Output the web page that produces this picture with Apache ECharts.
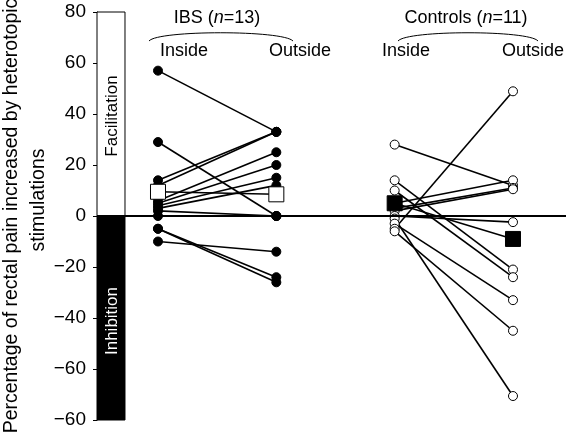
<!DOCTYPE html>
<html><head><meta charset="utf-8">
<script src="https://cdn.jsdelivr.net/npm/echarts@6/dist/echarts.min.js"></script>
<style>html,body{margin:0;padding:0;background:#fff}#c{width:566px;height:433px}</style>
</head><body><div id="c"></div>
<script>
// ---- data ----
const groupNames = ['IBS', 'Controls'];
const conditionLabels = ['Inside', 'Outside', 'Inside', 'Outside'];
const conditionX = [1, 2, 3, 4];
const ibsInside  = [57, 29, 14, 12, 6, 5, 4, 3, 2, 0, -5, -5, -10];
const ibsOutside = [33, 0, 33, 33, 25, 20, 15, 12, 0, 0, -24, -26, -14];
const ctrlInside  = [28, 14, 10, 5, 3, 2, 0, -1, -3, -5, -6];
const ctrlOutside = [12, -21, -24, 14, 11, 10.5, -2.4, -70.6, -33, 48.9, -45];
const ibsMean  = [9.5, 8.5];
const ctrlMean = [5, -9];
const yTickValues = [-80, -60, -40, -20, 0, 20, 40, 60, 80];
const yTickLabels = ['\u221260', '\u221260', '\u221240', '\u221220', '0', '20', '40', '60', '80'];
const barLabels = ['Facilitation', 'Inhibition'];

const FONT = 'Liberation Sans, Arial, sans-serif';
const chart = echarts.init(document.getElementById('c'));
const series = [];

function pairSeries(ins, outs, x0, x1, filled) {
  ins.forEach((v, i) => {
    series.push({
      type: 'line', data: [[x0, v], [x1, outs[i]]],
      symbol: 'circle', symbolSize: 9, z: 3,
      lineStyle: { color: '#000', width: 1.6 },
      itemStyle: { color: filled ? '#000' : '#fff', borderColor: '#000', borderWidth: 1 },
      emphasis: { disabled: true }, animation: false
    });
  });
}
pairSeries(ibsInside, ibsOutside, conditionX[0], conditionX[1], true);
pairSeries(ctrlInside, ctrlOutside, conditionX[2], conditionX[3], false);

series.push({
  type: 'line', data: [[conditionX[0], ibsMean[0]], [conditionX[1], ibsMean[1]]],
  symbol: 'rect', symbolSize: 15, z: 5,
  lineStyle: { color: '#000', width: 1.6 },
  itemStyle: { color: '#fff', borderColor: '#000', borderWidth: 1 }, animation: false
});
series.push({
  type: 'line', data: [[conditionX[2], ctrlMean[0]], [conditionX[3], ctrlMean[1]]],
  symbol: 'rect', symbolSize: 15, z: 5,
  lineStyle: { color: '#000', width: 1.6 },
  itemStyle: { color: '#000', borderColor: '#000', borderWidth: 1 }, animation: false
});

// facilitation / inhibition bar and zero line
const xMin = 0.4845, xMax = 4.448, barRight = 0.7211;
series.push({
  type: 'line', data: [], z: 1, animation: false,
  markArea: {
    silent: true,
    data: [
      [{ coord: [xMin, 0], itemStyle: { color: '#fff', borderColor: '#000', borderWidth: 1 } },
       { coord: [barRight, 80] }],
      [{ coord: [xMin, -80], itemStyle: { color: '#000', borderColor: '#000', borderWidth: 1 } },
       { coord: [barRight, 0] }]
    ]
  },
  markLine: {
    silent: true, symbol: 'none', label: { show: false },
    lineStyle: { color: '#000', width: 2, type: 'solid' },
    data: [{ yAxis: 0 }]
  }
});

const txt = (x, y, text, extra) => Object.assign({ type: 'text', x: x, y: y,
  style: { text: text, font: '18px ' + FONT, fill: '#000', textAlign: 'center', textVerticalAlign: 'middle' } }, extra || {});

const graphic = [
  { type: 'text', x: 12, y: 216, rotation: Math.PI / 2,
    style: { text: 'Percentage of rectal pain increased by heterotopic', font: '19.5px ' + FONT, fill: '#000', textAlign: 'center', textVerticalAlign: 'middle' } },
  { type: 'text', x: 39, y: 200, rotation: Math.PI / 2,
    style: { text: 'stimulations', font: '19.5px ' + FONT, fill: '#000', textAlign: 'center', textVerticalAlign: 'middle' } },
  { type: 'text', x: 217, y: 18,
    style: { rich: { a: { font: '18px ' + FONT, fill: '#000' }, i: { font: 'italic 18px ' + FONT, fill: '#000' } },
      text: '{a|' + groupNames[0] + ' (}{i|n}{a|=13)}', textAlign: 'center', textVerticalAlign: 'middle' } },
  { type: 'text', x: 466, y: 18,
    style: { rich: { a: { font: '18px ' + FONT, fill: '#000' }, i: { font: 'italic 18px ' + FONT, fill: '#000' } },
      text: '{a|' + groupNames[1] + ' (}{i|n}{a|=11)}', textAlign: 'center', textVerticalAlign: 'middle' } },
  { type: 'bezierCurve', shape: { x1: 149, y1: 41, cpx1: 158, cpy1: 30, cpx2: 283, cpy2: 30, x2: 293, y2: 41 },
    style: { stroke: '#000', lineWidth: 1, fill: null } },
  { type: 'bezierCurve', shape: { x1: 398, y1: 41, cpx1: 407, cpy1: 30, cpx2: 529, cpy2: 30, x2: 538, y2: 41 },
    style: { stroke: '#000', lineWidth: 1, fill: null } },
  txt(184, 51, conditionLabels[0]),
  txt(300, 51, conditionLabels[1]),
  txt(406, 51, conditionLabels[2]),
  txt(533, 51, conditionLabels[3])
];

chart.setOption({
  animation: false,
  backgroundColor: '#fff',
  grid: { left: 97, right: 0, top: 12, bottom: 13, containLabel: false },
  xAxis: { type: 'value', min: xMin, max: xMax, show: false },
  yAxis: {
    type: 'value', min: -80, max: 80, interval: 20,
    axisLine: { show: true, lineStyle: { color: '#000', width: 1 } },
    axisTick: { show: true, inside: false, length: 4, lineStyle: { color: '#000' } },
    splitLine: { show: false },
    axisLabel: { color: '#000', fontSize: 19, fontFamily: FONT, margin: 11,
      formatter: v => yTickLabels[yTickValues.indexOf(v)] }
  },
  graphic: graphic,
  series: series
});

// rotated labels inside the facilitation / inhibition bar, placed through the axes
const barMid = (xMin + barRight) / 2;
const pF = chart.convertToPixel({ gridIndex: 0 }, [barMid, 40]);
const pI = chart.convertToPixel({ gridIndex: 0 }, [barMid, -40]);
graphic.push({ type: 'text', x: pF[0] + 1, y: pF[1] + 2, rotation: Math.PI / 2, z: 10,
  style: { text: barLabels[0], font: '17px ' + FONT, fill: '#000', textAlign: 'center', textVerticalAlign: 'middle' } });
graphic.push({ type: 'text', x: pI[0] + 1, y: pI[1] + 3, rotation: Math.PI / 2, z: 10,
  style: { text: barLabels[1], font: '17px ' + FONT, fill: '#fff', textAlign: 'center', textVerticalAlign: 'middle' } });
chart.setOption({ graphic: graphic });
</script></body></html>
